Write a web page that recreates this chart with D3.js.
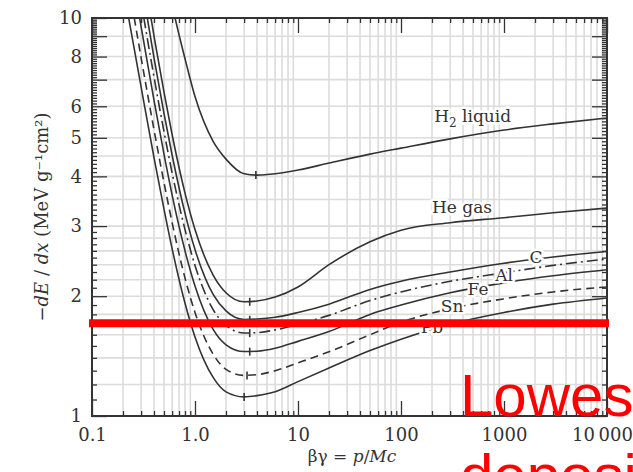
<!DOCTYPE html>
<meta charset='utf-8'>
<head>
  <title>Mean energy loss rate</title>
</head>

<style>
body {
  margin: 0;
  background: #fff;
}

svg text {
  font-family: "DejaVu Serif", serif;
  fill: #333;
}

.grid line {
  stroke: #dcdcdc;
  stroke-width: 1.6px;
}

.axis path {
  display: none;
}

.axis line {
  stroke: #333;
  stroke-width: 1.3px;
}

.axis text {
  font-size: 18px;
}

.frame {
  fill: none;
  stroke: #333;
  stroke-width: 2px;
}

.curve {
  fill: none;
  stroke: #333;
  stroke-width: 1.6px;
}

.min-mark {
  stroke: #333;
  stroke-width: 1.6px;
}

.curve-label {
  font-size: 17px;
  paint-order: stroke;
  stroke: #fff;
  stroke-width: 5px;
  stroke-linejoin: round;
}

.red-line {
  stroke: #ff0000;
  stroke-width: 8px;
}

.red-note {
  font-family: "Liberation Sans", Arial, sans-serif;
  font-size: 60px;
  fill: #ff0000;
}
</style>

<body>
  <svg width='633' height='472'></svg>

  <script src='https://cdn.jsdelivr.net/npm/d3@7/dist/d3.min.js'></script>
  <script>
// beta*gamma sample points shared by all curves
var betaGamma = [0.2, 0.25, 0.3, 0.4, 0.5, 0.6, 0.8, 1, 1.5, 2, 3, 4, 6, 10, 20, 50, 100, 300, 1000, 3000, 10000];

// -dE/dx in MeV g^-1 cm^2
var h2Liquid = [58.9, 40.7, 30.2, 19.2, 13.8, 10.8, 7.9, 6.35, 4.9, 4.42, 4.06, 4.03, 4.06, 4.15, 4.32, 4.55, 4.71, 4.97, 5.23, 5.42, 5.61];
var heGas    = [27.2, 18.9, 14.1, 9.01, 6.51, 5.09, 3.63, 2.94, 2.26, 2.04, 1.936, 1.945, 1.99, 2.11, 2.40, 2.74, 2.93, 3.06, 3.15, 3.24, 3.33];
var carbon   = [23.6, 16.5, 12.35, 7.94, 5.76, 4.52, 3.23, 2.62, 2.02, 1.837, 1.748, 1.752, 1.77, 1.82, 1.91, 2.08, 2.18, 2.30, 2.42, 2.51, 2.59];
var aluminum = [20.6, 14.5, 10.96, 7.11, 5.18, 4.08, 2.94, 2.39, 1.85, 1.69, 1.616, 1.62, 1.645, 1.70, 1.79, 1.95, 2.05, 2.18, 2.29, 2.39, 2.48];
var iron     = [17.65, 12.54, 9.50, 6.21, 4.55, 3.59, 2.60, 2.12, 1.65, 1.51, 1.452, 1.455, 1.48, 1.54, 1.63, 1.80, 1.90, 2.04, 2.16, 2.25, 2.33];
var tin      = [14.5, 10.43, 7.94, 5.24, 3.86, 3.06, 2.22, 1.82, 1.43, 1.31, 1.265, 1.27, 1.30, 1.36, 1.45, 1.60, 1.72, 1.86, 1.97, 2.05, 2.11];
var lead     = [12.0, 8.71, 6.70, 4.46, 3.31, 2.63, 1.92, 1.58, 1.25, 1.15, 1.117, 1.125, 1.15, 1.22, 1.32, 1.46, 1.56, 1.70, 1.82, 1.91, 1.98];

// position of the minimum of each curve (marked by a small tick)
var minBetaGamma = [3.9, 3.4, 3.4, 3.4, 3.4, 3.2, 3.0];
var minValue     = [4.03, 1.936, 1.745, 1.615, 1.451, 1.264, 1.116];

// curve labels: text, beta*gamma, dE/dx
var labelText = ['He gas', 'C', 'Al', 'Fe', 'Sn', 'Pb'];
var labelBg   = [200, 2050, 1000, 560, 313, 200];
var labelV    = [3.24, 2.51, 2.26, 2.085, 1.89, 1.673];

var xTickValues = [0.1, 1, 10, 100, 1000, 10000];
var xTickLabels = ['0.1', '1.0', '10', '100', '1000', '10\u2009000'];
var yTickValues = [1, 2, 3, 4, 5, 6, 8, 10];
var yGridValues = [1.2, 1.4, 1.6, 1.8, 2, 2.2, 2.4, 2.6, 2.8, 3, 3.5, 4, 4.5, 5, 6, 7, 8, 9];

var highlightValue = 1.71;

var plotLeft = 92, plotRight = 607, plotTop = 18, plotBottom = 416;

var x = d3.scaleLog().domain([0.1, 10000]).range([plotLeft, plotRight]);
var y = d3.scaleLog().domain([1, 10]).range([plotBottom, plotTop]);

var svg = d3.select('svg');

svg.append('defs').append('clipPath')
  .attr('id', 'plot-clip')
  .append('rect')
  .attr('x', plotLeft).attr('y', plotTop)
  .attr('width', plotRight - plotLeft).attr('height', plotBottom - plotTop);

// grid
var xGridValues = [];
[0.1, 1, 10, 100, 1000].forEach(function(d) {
  for (var k = 2; k <= 9; k++) xGridValues.push(d * k);
});

var grid = svg.append('g').attr('class', 'grid');
grid.selectAll('line.gx')
  .data(xGridValues)
  .enter().append('line')
  .attr('x1', function(d) { return x(d); })
  .attr('x2', function(d) { return x(d); })
  .attr('y1', plotTop).attr('y2', plotBottom);
grid.selectAll('line.gy')
  .data(yGridValues)
  .enter().append('line')
  .attr('y1', function(d) { return y(d); })
  .attr('y2', function(d) { return y(d); })
  .attr('x1', plotLeft).attr('x2', plotRight);

// minor tick values
var yMinor = d3.range(11, 100).map(function(d) { return d / 10; })
  .filter(function(d) { return Math.abs(d - Math.round(d)) > 1e-6; });
var yMajor = d3.range(1, 11);

function drawAxis(axis, tx, ty) {
  return svg.append('g')
    .attr('class', 'axis')
    .attr('transform', 'translate(' + tx + ',' + ty + ')')
    .call(axis);
}

// bottom
drawAxis(d3.axisBottom(x).tickValues(xGridValues).tickSize(-5).tickFormat(''), 0, plotBottom);
var xAxis = drawAxis(d3.axisBottom(x).tickValues(xTickValues).tickSize(-15).tickPadding(12)
  .tickFormat(function(d, i) { return xTickLabels[i]; }), 0, plotBottom);
// the last label sits a little left of its tick so it fits the page
xAxis.selectAll('.tick text').filter(function(d) { return d === 10000; }).attr('dx', -5);
// top
drawAxis(d3.axisTop(x).tickValues(xGridValues).tickSize(-5).tickFormat(''), 0, plotTop);
drawAxis(d3.axisTop(x).tickValues(xTickValues).tickSize(-15).tickFormat(''), 0, plotTop);
// left
drawAxis(d3.axisLeft(y).tickValues(yMinor).tickSize(-5).tickFormat(''), plotLeft, 0);
drawAxis(d3.axisLeft(y).tickValues(yMajor).tickSize(-15).tickFormat(''), plotLeft, 0);
drawAxis(d3.axisLeft(y).tickValues(yTickValues).tickSize(0).tickPadding(10)
  .tickFormat(d3.format('d')), plotLeft, 0);
// right
drawAxis(d3.axisRight(y).tickValues(yMinor).tickSize(-5).tickFormat(''), plotRight, 0);
drawAxis(d3.axisRight(y).tickValues(yMajor).tickSize(-15).tickFormat(''), plotRight, 0);

svg.append('rect')
  .attr('class', 'frame')
  .attr('x', plotLeft).attr('y', plotTop)
  .attr('width', plotRight - plotLeft).attr('height', plotBottom - plotTop);

// curves
var series = [
  {name: 'H2 liquid', values: h2Liquid, dash: null},
  {name: 'He gas', values: heGas, dash: null},
  {name: 'C', values: carbon, dash: null},
  {name: 'Al', values: aluminum, dash: '11,4,2,4'},
  {name: 'Fe', values: iron, dash: null},
  {name: 'Sn', values: tin, dash: '8,5'},
  {name: 'Pb', values: lead, dash: null}
];

var line = d3.line()
  .x(function(d) { return x(d[0]); })
  .y(function(d) { return y(d[1]); })
  .curve(d3.curveMonotoneX);

var plot = svg.append('g').attr('clip-path', 'url(#plot-clip)');

plot.selectAll('path.curve')
  .data(series)
  .enter().append('path')
  .attr('class', 'curve')
  .attr('stroke-dasharray', function(d) { return d.dash; })
  .attr('d', function(d) {
    return line(betaGamma.map(function(b, i) { return [b, d.values[i]]; }));
  });

plot.selectAll('line.min-mark')
  .data(minBetaGamma)
  .enter().append('line')
  .attr('class', 'min-mark')
  .attr('x1', function(d) { return x(d); })
  .attr('x2', function(d) { return x(d); })
  .attr('y1', function(d, i) { return y(minValue[i]) - 4; })
  .attr('y2', function(d, i) { return y(minValue[i]) + 4; });

// labels
var h2 = svg.append('text')
  .attr('class', 'curve-label')
  .attr('x', x(210)).attr('y', y(5.48));
h2.append('tspan').text('H');
h2.append('tspan').attr('dy', 5).attr('font-size', 12).text('2');
h2.append('tspan').attr('dy', -5).text(' liquid');

svg.selectAll('text.mat')
  .data(labelText)
  .enter().append('text')
  .attr('class', 'curve-label mat')
  .attr('x', function(d, i) { return x(labelBg[i]); })
  .attr('y', function(d, i) { return y(labelV[i]); })
  .attr('dy', function(d, i) { return i === 0 ? 0 : '0.35em'; })
  .attr('text-anchor', function(d, i) { return i === 0 ? 'start' : 'middle'; })
  .text(function(d) { return d; });

// axis titles
var xt = svg.append('text')
  .attr('x', 352).attr('y', 462)
  .attr('text-anchor', 'middle')
  .attr('font-size', 17);
xt.append('tspan').text('\u03b2\u03b3 = ');
xt.append('tspan').attr('font-style', 'italic').text('p');
xt.append('tspan').text('/');
xt.append('tspan').attr('font-style', 'italic').text('Mc');

var yt = svg.append('text')
  .attr('transform', 'translate(48,' + ((plotTop + plotBottom) / 2) + ') rotate(-90)')
  .attr('text-anchor', 'middle')
  .attr('font-size', 18);
yt.append('tspan').text('\u2212');
yt.append('tspan').attr('font-style', 'italic').text('dE');
yt.append('tspan').text(' / ');
yt.append('tspan').attr('font-style', 'italic').text('dx');
yt.append('tspan').text(' (MeV g\u207b\u00b9cm\u00b2)');

// red overlay
svg.append('line')
  .attr('class', 'red-line')
  .attr('x1', plotLeft - 3).attr('x2', plotRight + 2)
  .attr('y1', y(highlightValue)).attr('y2', y(highlightValue));

svg.append('text').attr('class', 'red-note').attr('x', 460).attr('y', 416).text('Lowest');
svg.append('text').attr('class', 'red-note').attr('x', 460).attr('y', 496).text('deposit');
  </script>
</body>
</html>
